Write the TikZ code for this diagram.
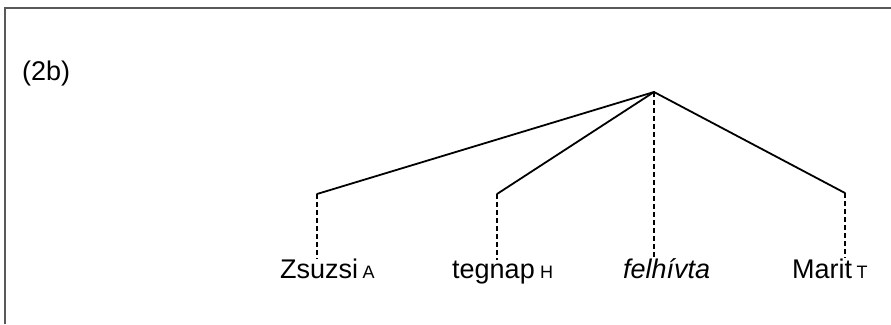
\documentclass[tikz,border=0pt]{standalone}
\usepackage{fontspec}
\setmainfont{Liberation Sans}
\begin{document}
\begin{tikzpicture}[x=1pt,y=-1pt,
  word/.style={anchor=base west,inner sep=0pt,font=\fontsize{27}{30}\selectfont},
  subtag/.style={anchor=base west,inner sep=0pt,font=\fontsize{18}{20}\selectfont},
  branch/.style={line width=1.8pt,line cap=round},
  dashline/.style={line width=1.5pt,dash pattern=on 5pt off 3pt}]
\useasboundingbox (0,0) rectangle (891,324);
\draw[black!65,line width=2pt] (4.5,324) -- (4.5,8) -- (891,8);
\node[word] (ex) at (22,80) {(2b)};
\coordinate (root) at (654,92);
\coordinate (bz) at (317,194);
\coordinate (bt) at (497,194);
\coordinate (bm) at (845,193);
\node[word] (zs) at (280,278) {Zsuzsi};
\node[subtag] (za) at ([xshift=4pt]zs.base east) {A};
\node[word] (tg) at (452,278) {tegnap};
\node[subtag] (th) at ([xshift=5pt]tg.base east) {H};
\node[word] (fh) at (623,278) {\itshape felhívta};
\node[word] (mr) at (792,278) {Marit};
\node[subtag] (mt) at ([xshift=4pt]mr.base east) {T};
\draw[branch] (bz) -- (root) -- (bm);
\draw[branch] (bt) -- (root);
\draw[dashline] (bz) -- (bz |- zs.north);
\draw[dashline] (bt) -- (bt |- tg.north);
\draw[dashline] (root) -- (root |- fh.north);
\draw[dashline] (bm) -- (bm |- mr.north);
\end{tikzpicture}
\end{document}
